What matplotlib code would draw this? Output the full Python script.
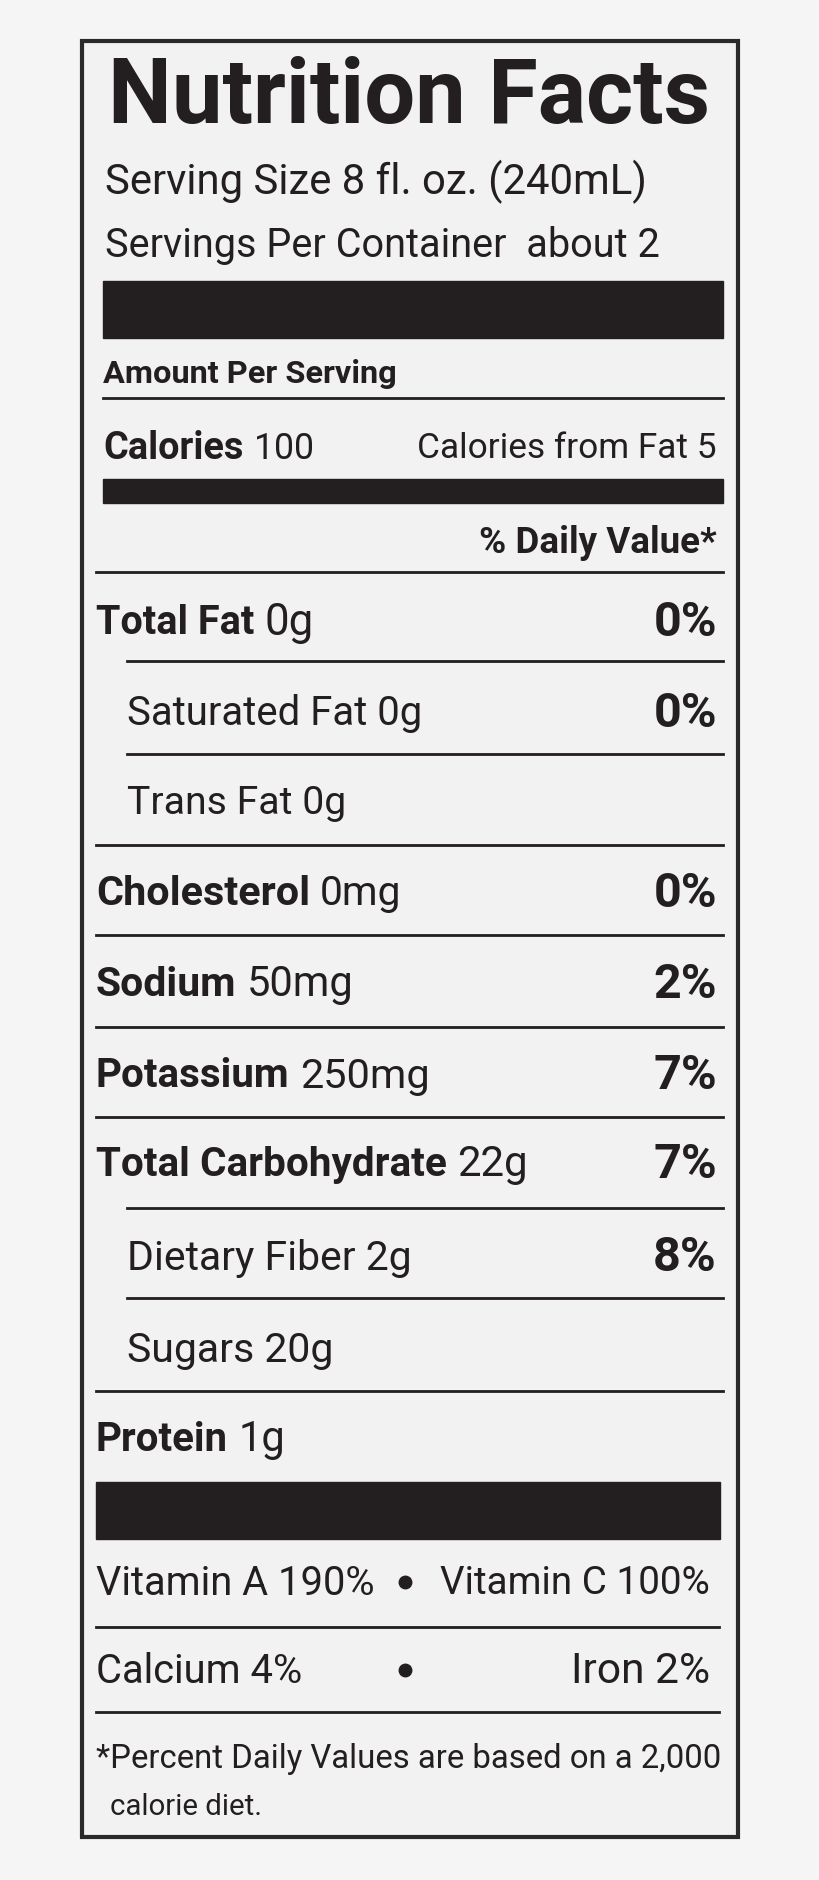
import matplotlib
matplotlib.use('Agg')
import matplotlib.pyplot as plt
from matplotlib.patches import Rectangle

# nutrient rows: (name, amount, percent, indented)
names = ['Total Fat', 'Saturated Fat', 'Trans Fat', 'Cholesterol', 'Sodium',
         'Potassium', 'Total Carbohydrate', 'Dietary Fiber', 'Sugars', 'Protein']
amounts = ['0g', '0g', '0g', '0mg', '50mg', '250mg', '22g', '2g', '20g', '1g']
percents = ['0%', '0%', '', '0%', '2%', '7%', '7%', '8%', '', '']
indented = [False, True, True, False, False, False, False, True, True, False]
row_y = [519, 595, 670, 745, 821, 897, 971, 1049, 1126, 1200]
line_y = [552, 629, 705, 780, 857, 932, 1008, 1083, 1160]
# width of bold / regular part in picture units
name_w = [132, 0, 0, 178, 117, 161, 292, 0, 0, 110]
full_w = [182, 246, 182, 255, 215, 278, 360, 237, 172, 158]

vitamins = [('Vitamin A 190%', 'Vitamin C 100%'), ('Calcium 4%', 'Iron 2%')]

FAM = ['Liberation Sans Narrow', 'Roboto', 'DejaVu Sans']
INK = '#231f20'

fig = plt.figure(figsize=(8.2, 18.81), dpi=100)
fig.patch.set_facecolor('#f5f5f5')
ax = fig.add_axes([0, 0, 1, 1])
ax.set_xlim(0, 684)
ax.set_ylim(1568, 0)
ax.axis('off')
rend = fig.canvas.get_renderer()
px = 820 / 684


def fit(s, x, y, w, bold=False, ha='left', maxh=None):
    t = ax.text(x, y, s, ha=ha, va='center', color=INK, family=FAM,
                fontweight='bold' if bold else 'normal', fontsize=30)
    bb = t.get_window_extent(rend)
    fs = 30 * w * px / bb.width
    t.set_fontsize(fs)
    return t


ax.add_patch(Rectangle((68, 35), 548, 1497, facecolor='#f2f2f2',
                       edgecolor='#2a2a2a', lw=3))

fit('Nutrition Facts', 90, 82, 502, bold=True)
fit('Serving Size 8 fl. oz. (240mL)', 88, 152, 452)
fit('Servings Per Container  about 2', 88, 205, 462)
ax.add_patch(Rectangle((86, 235), 517, 48, color=INK))
fit('Amount Per Serving', 86, 312, 244, bold=True)
ax.plot([86, 603], [333, 333], color=INK, lw=2)
fit('Calories', 86, 374, 117, bold=True)
fit('100', 212, 374, 50)
fit('Calories from Fat 5', 598, 374, 250, ha='right')
ax.add_patch(Rectangle((86, 400), 517, 20, color=INK))
fit('% Daily Value*', 598, 453, 198, bold=True, ha='right')
ax.plot([80, 603], [478, 478], color=INK, lw=2)

for i, n in enumerate(names):
    y = row_y[i]
    if indented[i]:
        fit(n + ' ' + amounts[i], 106, y, full_w[i])
    else:
        fit(n, 80, y, name_w[i], bold=True)
        aw = full_w[i] - name_w[i] - 9
        fit(amounts[i], 80 + name_w[i] + 9, y, aw)
    if percents[i]:
        fit(percents[i], 598, y, 53, bold=True, ha='right')
for j, ly in enumerate(line_y):
    x0 = 106 if indented[j + 1] else 80
    ax.plot([x0, 603], [ly, ly], color=INK, lw=2)

ax.add_patch(Rectangle((80, 1236), 521, 48, color=INK))
fit(vitamins[0][0], 80, 1320, 232)
fit(vitamins[0][1], 592, 1320, 225, ha='right')
ax.plot([80, 600], [1357, 1357], color=INK, lw=2)
fit(vitamins[1][0], 80, 1393, 172)
fit(vitamins[1][1], 592, 1393, 116, ha='right')
ax.plot([80, 600], [1428, 1428], color=INK, lw=2)
for vy in (1320, 1393):
    ax.plot(338, vy, 'o', color=INK, ms=9)
fit('*Percent Daily Values are based on a 2,000', 80, 1466, 520)
fit('calorie diet.', 92, 1506, 126)

fig.savefig('out.png', dpi=100, facecolor=fig.get_facecolor())
